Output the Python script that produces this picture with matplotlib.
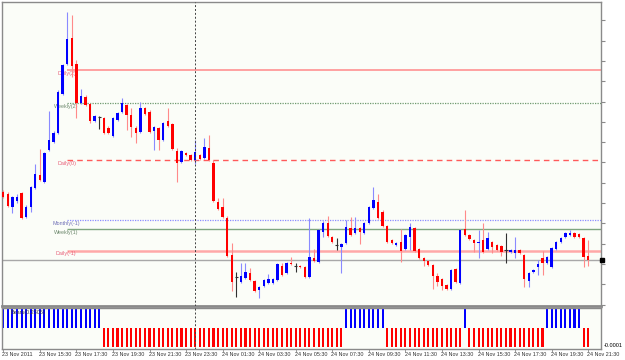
import numpy as np
import matplotlib
matplotlib.use("Agg")
import matplotlib.pyplot as plt
from matplotlib.ticker import MultipleLocator
from matplotlib.transforms import blended_transform_factory

# 15 min candles, 23 Nov 13:30 .. 24 Nov 21:30
# levels in points below 1.3560 (20.3 pts = 10 pips)
o = [192, 194, 207, 201, 193, 217, 207, 188, 175, 182,
     150, 142, 133, 94, 64, 38, 64, 103, 97, 104,
     121, 117, 118, 128, 136, 120, 112, 105, 115, 128,
     132, 108, 112, 131, 128, 140, 121, 124, 151, 162,
     153, 155, 160, 155, 158, 148, 163, 202, 207, 218,
     255, 277, 282, 278, 273, 281, 290, 286, 283, 283,
     280, 266, 273, 263, 266, 266, 267, 277, 258, 262,
     232, 223, 237, 245, 247, 243, 228, 233, 228, 233,
     223, 208, 202, 212, 226, 240, 245, 242, 249, 237,
     228, 249, 258, 261, 265, 276, 279, 285, 289, 269,
     283, 229, 235, 240, 243, 240, 249, 242, 245, 246,
     250, 252, 253, 250, 255, 281, 272, 267, 258, 263,
     267, 249, 242, 237, 235, 233, 234, 238, 256]
h = [190, 192, 196, 194, 192, 205, 186, 164, 149, 152,
     111, 131, 90, 64, 12, 15, 60, 89, 95, 103,
     115, 116, 117, 126, 117, 112, 98, 104, 108, 126,
     102, 107, 110, 126, 127, 122, 108, 123, 148, 150,
     152, 154, 140, 154, 138, 135, 160, 198, 198, 216,
     243, 272, 263, 263, 268, 280, 286, 279, 274, 278,
     263, 263, 262, 257, 263, 265, 266, 218, 249, 229,
     221, 216, 236, 238, 243, 220, 217, 217, 227, 222,
     206, 187, 194, 210, 225, 239, 242, 229, 234, 223,
     227, 248, 257, 260, 264, 273, 278, 284, 269, 268,
     229, 210, 234, 239, 230, 223, 232, 241, 244, 245,
     233, 249, 237, 249, 254, 272, 269, 260, 251, 256,
     247, 241, 237, 232, 230, 232, 233, 237, 240]
l = [198, 207, 213, 203, 219, 218, 212, 189, 181, 183,
     151, 143, 134, 95, 65, 77, 118, 104, 106, 123,
     122, 129, 134, 134, 137, 121, 113, 130, 137, 143,
     133, 115, 133, 150, 150, 141, 127, 150, 182, 163,
     156, 161, 164, 160, 159, 161, 202, 210, 218, 257,
     291, 297, 283, 279, 281, 292, 298, 287, 284, 284,
     281, 276, 274, 265, 272, 268, 278, 278, 262, 263,
     237, 237, 243, 250, 273, 244, 236, 234, 244, 234,
     224, 209, 219, 227, 243, 244, 246, 262, 250, 250,
     252, 259, 266, 266, 289, 286, 290, 290, 290, 283,
     284, 236, 240, 252, 258, 253, 250, 253, 251, 256,
     263, 253, 258, 254, 287, 287, 273, 275, 275, 264,
     268, 250, 243, 238, 236, 238, 238, 267, 266]
c = [197, 206, 197, 197, 218, 207, 187, 174, 180, 153,
     140, 133, 92, 65, 39, 66, 103, 96, 105, 121,
     116, 117, 133, 133, 118, 113, 103, 115, 127, 133,
     108, 114, 132, 127, 140, 123, 126, 149, 163, 151,
     155, 160, 152, 159, 147, 160, 201, 209, 217, 256,
     282, 277, 276, 272, 280, 291, 287, 280, 279, 279,
     264, 275, 263, 264, 266, 267, 277, 257, 261, 230,
     223, 236, 242, 245, 244, 227, 235, 228, 232, 223,
     207, 200, 218, 226, 242, 243, 243, 251, 235, 227,
     251, 258, 261, 265, 276, 282, 286, 289, 270, 282,
     230, 235, 239, 243, 242, 252, 238, 247, 250, 252,
     250, 250, 250, 253, 279, 273, 270, 264, 263, 257,
     248, 242, 238, 233, 233, 237, 237, 257, 259.5]

# indicator state as runs: (sign, number of bars)
signal_runs = [(1, 22), (-1, 53), (1, 9), (-1, 17), (1, 1), (-1, 17), (1, 8), (-1, 2)]

# pivot levels (same point units) and their labels
level_names = ["Daily(2)", "Weekly(2)", "Daily(0)", "Monthly(-1)", "Weekly(1)", "Daily(-1)"]
level_vals = [70, 103, 160, 220, 229, 250.5]
level_colors = ["#ff9a9a", "#6f9a6f", "#ff5a5a", "#8c8cff", "#7fa67f", "#ffa8a8"]
level_styles = ["-", (0, (1, 1)), (0, (4, 3)), (0, (1, 1)), "-", "-"]
level_widths = [1.3, 0.9, 1.0, 0.9, 1.0, 1.8]
level_text_colors = ["#e8607a", "#6f8a6f", "#e8607a", "#7272b8", "#6f8a6f", "#e8607a"]
label_x = [11.8, 11.1, 11.8, 10.7, 11.1, 11.5]
current = 260

time_labels = ["23 Nov 2011", "23 Nov 15:30", "23 Nov 17:30", "23 Nov 19:30", "23 Nov 21:30",
               "23 Nov 23:30", "24 Nov 01:30", "24 Nov 03:30", "24 Nov 05:30", "24 Nov 07:30",
               "24 Nov 09:30", "24 Nov 11:30", "24 Nov 13:30", "24 Nov 15:30", "24 Nov 17:30",
               "24 Nov 19:30", "24 Nov 21:30"]

TOP = 1.3560
STEP = 0.001 / 20.3
to_price = lambda v: TOP - np.asarray(v, dtype=float) * STEP

O, H, L, C = to_price(o), to_price(h), to_price(l), to_price(c)
x = np.arange(len(O))
sig = np.concatenate([np.full(n, s) for s, n in signal_runs])

plt.rcParams['font.family'] = ['Liberation Sans', 'DejaVu Sans']
bg = "#fbfdf8"
frame = "#8a8a8a"

fig = plt.figure(figsize=(6.25, 3.6), dpi=100)
ax = fig.add_axes([2 / 625, 1 - 306 / 360, 599 / 625, 304 / 360], facecolor=bg)
ax2 = fig.add_axes([2 / 625, 1 - 349 / 360, 599 / 625, 41 / 360], facecolor=bg, sharex=ax)

# pivot lines
for v, col, ls, lw in zip(level_vals, level_colors, level_styles, level_widths):
    ax.hlines(to_price(v), 13.9, 140, colors=col, linestyles=ls, linewidth=lw, zorder=1)
ax.axhline(to_price(current), color="#a8a8a8", lw=1.0, zorder=1)
for name, v, tc, lx in zip(level_names, level_vals, level_text_colors, label_x):
    ax.text(lx, to_price(v + 3.5), name, fontsize=3.9, color=tc, va="center", ha="left", zorder=2)

# candles
bull = C > O
doji = np.isclose(C, O)
body_col = np.where(bull, "#0000ff", "#ff0000")
wick_col = np.where(bull, "#8a8aff", "#ff8a8a")
for i in range(len(x)):
    if doji[i]:
        ax.vlines(x[i], L[i], H[i], color="#303030", lw=0.8, zorder=3)
        ax.hlines(O[i], x[i] - 0.35, x[i] + 0.35, color="#303030", lw=0.8, zorder=3)
        continue
    ax.vlines(x[i], L[i], H[i], color=wick_col[i], lw=0.8, zorder=3)
    lo, hi = min(O[i], C[i]), max(O[i], C[i])
    ax.bar(x[i], max(hi - lo, 1.2 * STEP), bottom=lo, width=0.52, color=body_col[i],
           linewidth=0, zorder=4)

# day separator
for a in (ax, ax2):
    a.axvline(42, color="#404040", lw=0.7, ls=(0, (2, 2)), zorder=5)

ax.set_xlim(-0.28, 130.8)
ax.set_ylim(to_price(306), to_price(2))
ax.yaxis.tick_right()
ax.yaxis.set_major_locator(MultipleLocator(0.001))
ax.tick_params(axis="y", length=3, width=0.8, color=frame, labelright=False, direction="out")
ax.tick_params(axis="x", bottom=False, labelbottom=False)
ax.plot([131.0], [to_price(current)], marker="s", ms=2.5, color="black", clip_on=False, zorder=6)

# indicator
ax2.bar(x, sig, width=0.45, color=np.where(sig > 0, "#0000ff", "#ff0000"), linewidth=0)
ax2.set_ylim(-1.08, 1.03)
ax2.set_yticks([])
ax2.text(1.5, 0.82, "Bears(0.2306)", fontsize=3.9, color="#404040", va="center")
ax2.text(1.005, 0.08, "-0.0001", transform=ax2.transAxes, fontsize=4, color="black",
         va="center", ha="left")
ax2.set_xticks(np.arange(0, 129, 8))
ax2.tick_params(axis="x", length=2, width=0.6, color=frame, labelbottom=False)
tr = blended_transform_factory(ax2.transData, ax2.transAxes)
for k, lab in enumerate(time_labels):
    ax2.text(8 * k - 0.2, -0.14, lab, transform=tr, fontsize=3.9, color="#333333",
             ha="left", va="center", clip_on=False)

for a in (ax, ax2):
    for s in a.spines.values():
        s.set_color(frame)
        s.set_linewidth(1.0)
ax.spines["bottom"].set_linewidth(2.0)

fig.savefig("out.png", dpi=100, facecolor="white")
